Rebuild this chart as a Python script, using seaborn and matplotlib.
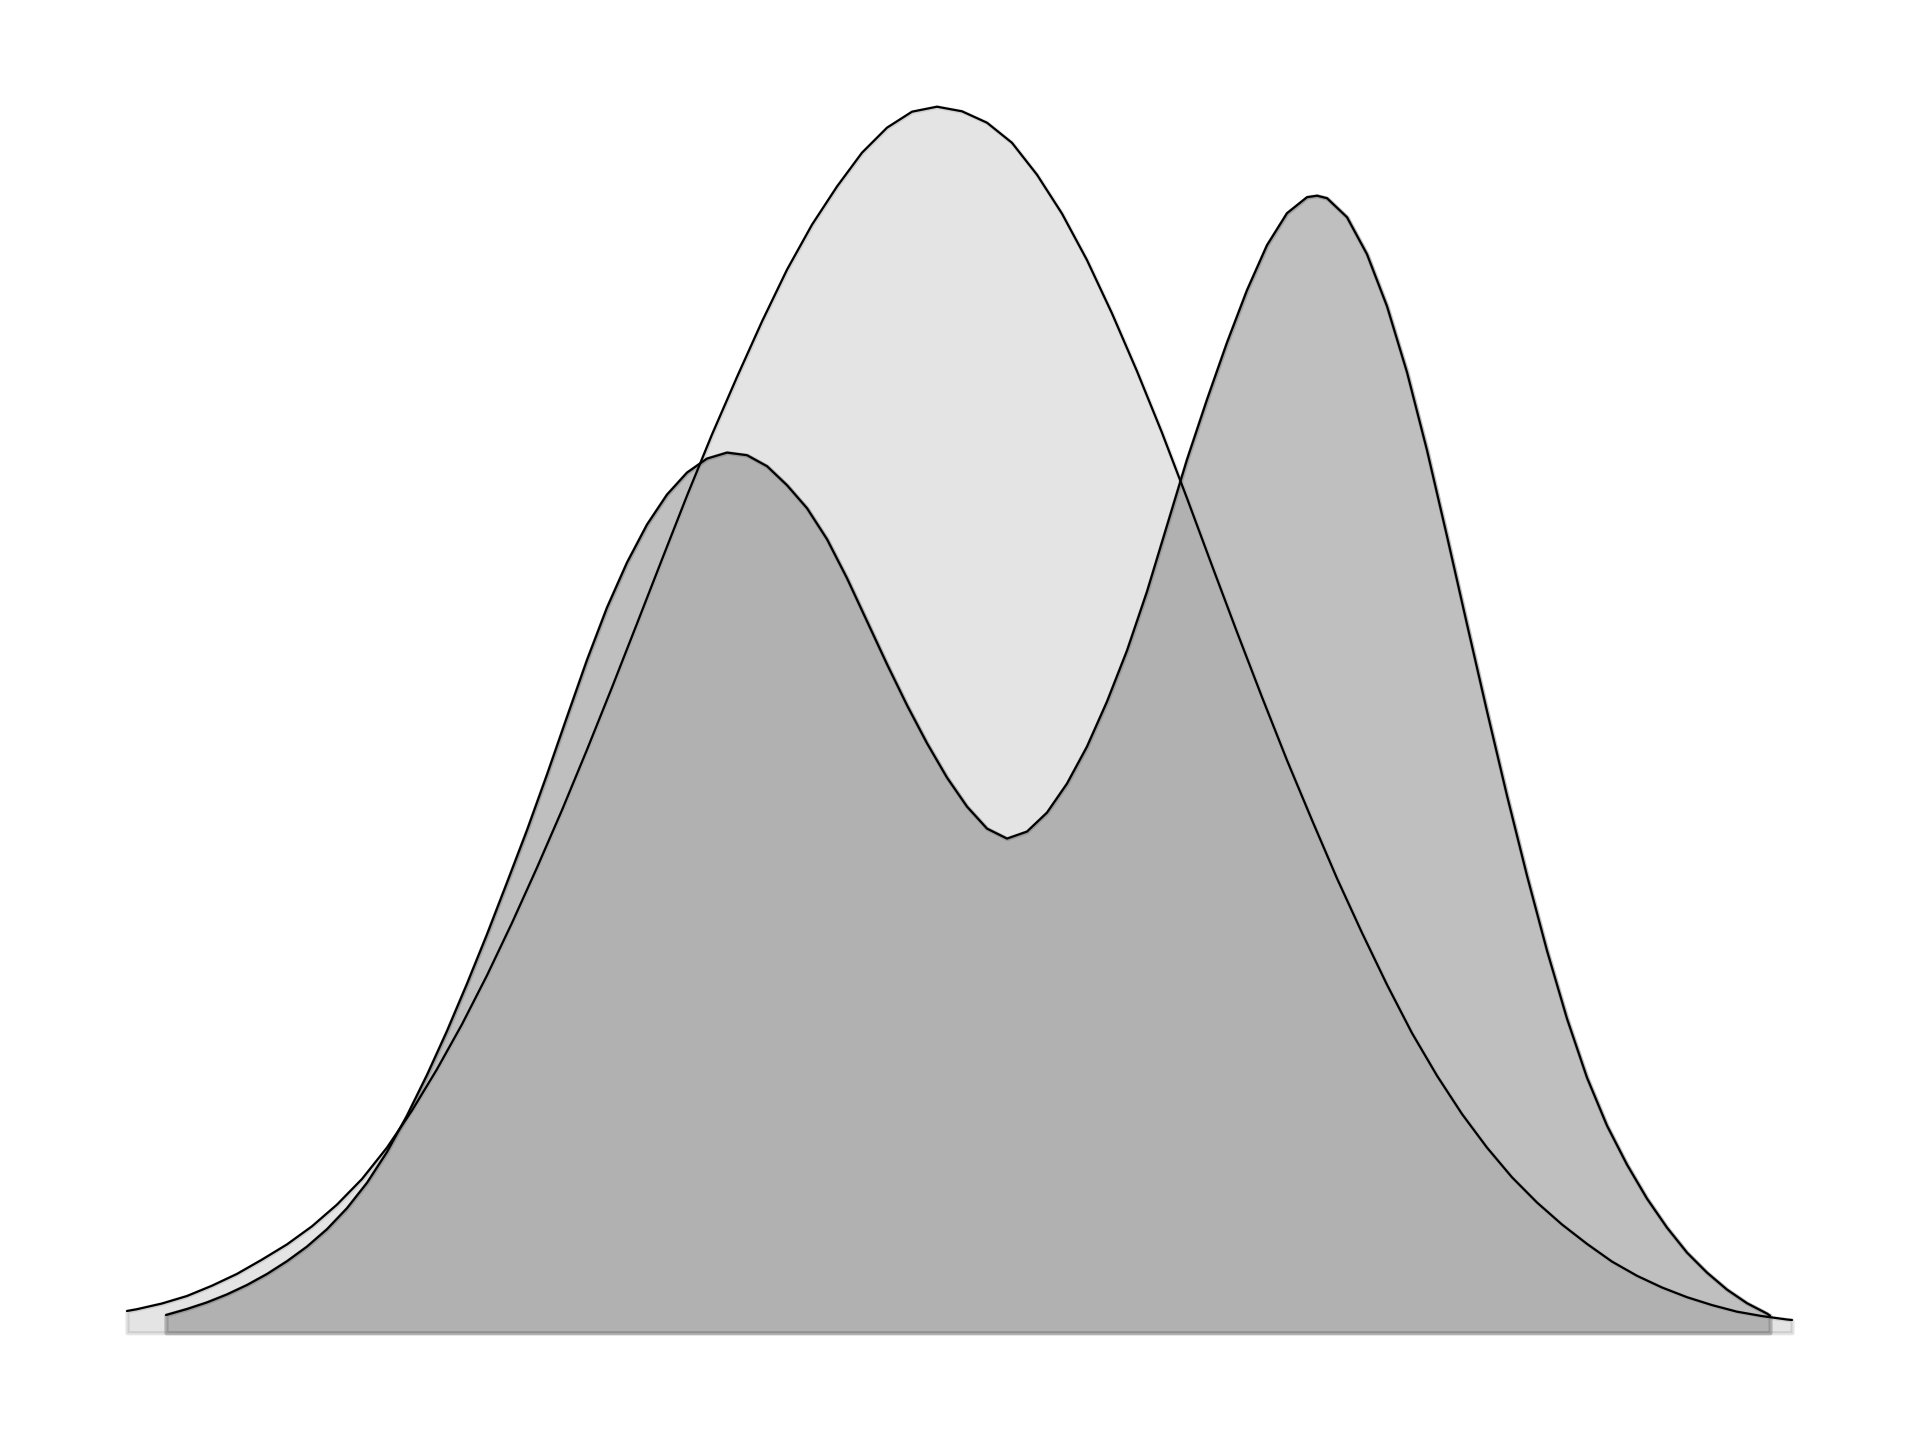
"""Two overlapping density curves, unimodal light grey and bimodal darker grey."""

import matplotlib
matplotlib.use("Agg")
import matplotlib.pyplot as plt
import seaborn as sns

# unimodal density
unimodal_x = [-8.10, -8.00, -7.75, -7.50, -7.25, -7.00, -6.75, -6.50, -6.25, -6.00,
              -5.75, -5.50, -5.25, -5.00, -4.75, -4.50, -4.25, -4.00, -3.75, -3.50,
              -3.25, -3.00, -2.75, -2.50, -2.25, -2.00, -1.75, -1.50, -1.25, -1.00,
              -0.75, -0.50, -0.25, 0.00, 0.25, 0.50, 0.75, 1.00, 1.25, 1.50,
              1.75, 2.00, 2.25, 2.50, 2.75, 3.00, 3.25, 3.50, 3.75, 4.00,
              4.25, 4.50, 4.75, 5.00, 5.25, 5.50, 5.75, 6.00, 6.25, 6.50,
              6.75, 7.00, 7.25, 7.50, 7.75, 8.00, 8.25, 8.50, 8.55]
unimodal_density = [0.00217, 0.00235, 0.00292, 0.00367, 0.00470, 0.00588, 0.00731, 0.00883, 0.01064, 0.01281,
                    0.01537, 0.01851, 0.02222, 0.02635, 0.03084, 0.03573, 0.04098, 0.04651, 0.05226, 0.05830,
                    0.06453, 0.07091, 0.07733, 0.08370, 0.08982, 0.09557, 0.10112, 0.10630, 0.11080, 0.11462,
                    0.11800, 0.12050, 0.12210, 0.12260, 0.12214, 0.12100, 0.11899, 0.11580, 0.11191, 0.10726,
                    0.10193, 0.09615, 0.09000, 0.08345, 0.07671, 0.07006, 0.06356, 0.05724, 0.05126, 0.04543,
                    0.03999, 0.03480, 0.02996, 0.02570, 0.02187, 0.01851, 0.01554, 0.01302, 0.01082, 0.00888,
                    0.00711, 0.00569, 0.00452, 0.00355, 0.00276, 0.00210, 0.00166, 0.00132, 0.00127]

# bimodal density
bimodal_x = [-7.71, -7.50, -7.30, -7.10, -6.90, -6.70, -6.50, -6.30, -6.10, -5.90,
             -5.70, -5.50, -5.30, -5.10, -4.90, -4.70, -4.50, -4.30, -4.10, -3.90,
             -3.70, -3.50, -3.30, -3.10, -2.90, -2.70, -2.50, -2.30, -2.10, -1.90,
             -1.70, -1.50, -1.30, -1.10, -0.90, -0.70, -0.50, -0.30, -0.10, 0.10,
             0.30, 0.50, 0.70, 0.90, 1.10, 1.30, 1.50, 1.70, 1.90, 2.10,
             2.30, 2.50, 2.70, 2.90, 3.10, 3.30, 3.50, 3.70, 3.80, 3.90,
             4.10, 4.30, 4.50, 4.70, 4.90, 5.10, 5.30, 5.50, 5.70, 5.90,
             6.10, 6.30, 6.50, 6.70, 6.90, 7.10, 7.30, 7.50, 7.70, 7.90,
             8.10, 8.30, 8.33]
bimodal_density = [0.00177, 0.00237, 0.00303, 0.00383, 0.00477, 0.00587, 0.00715, 0.00861, 0.01035, 0.01245,
                   0.01499, 0.01807, 0.02171, 0.02577, 0.03017, 0.03489, 0.03983, 0.04501, 0.05025, 0.05581,
                   0.06157, 0.06727, 0.07251, 0.07701, 0.08081, 0.08381, 0.08601, 0.08741, 0.08801, 0.08775,
                   0.08665, 0.08475, 0.08245, 0.07935, 0.07545, 0.07115, 0.06685, 0.06275, 0.05895, 0.05551,
                   0.05261, 0.05041, 0.04941, 0.05011, 0.05201, 0.05491, 0.05861, 0.06311, 0.06821, 0.07411,
                   0.08071, 0.08731, 0.09331, 0.09901, 0.10425, 0.10875, 0.11195, 0.11355, 0.11370, 0.11345,
                   0.11155, 0.10785, 0.10265, 0.09605, 0.08825, 0.07965, 0.07085, 0.06215, 0.05371, 0.04571,
                   0.03821, 0.03141, 0.02551, 0.02071, 0.01681, 0.01341, 0.01051, 0.00801, 0.00601, 0.00431,
                   0.00295, 0.00191, 0.00170]

sns.set_style("white")

fig = plt.figure(figsize=(19.2, 14.4), dpi=100)
ax = fig.add_axes([0, 0, 1, 1])

# filled areas first, outlines on top
ax.fill_between(unimodal_x, unimodal_density, color="gray", alpha=0.21, linewidth=3, zorder=1)
ax.fill_between(bimodal_x, bimodal_density, color="gray", alpha=0.5, linewidth=3, zorder=2)

sns.lineplot(x=unimodal_x, y=unimodal_density, color="black", linewidth=1.6,
             estimator=None, ax=ax, zorder=3)
sns.lineplot(x=bimodal_x, y=bimodal_density, color="black", linewidth=1.6,
             estimator=None, ax=ax, zorder=3)

ax.set_xlim(-9.37, 9.83)
ax.set_ylim(-0.01073, 0.13327)
ax.set_axis_off()

plt.savefig("out.png", dpi=100, facecolor="white")
plt.close()
